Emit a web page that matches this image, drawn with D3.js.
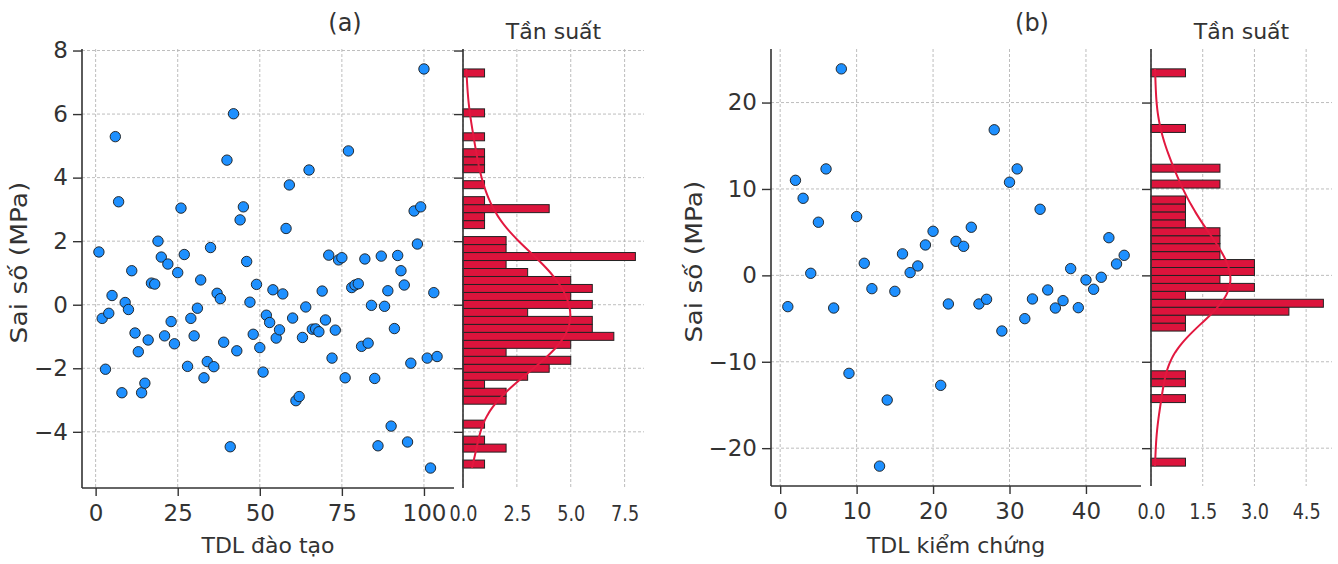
<!DOCTYPE html>
<html>
<head>
<meta charset="utf-8">
<script src="https://cdn.jsdelivr.net/npm/d3@7"></script>
<style>
  html, body { margin: 0; padding: 0; background: #fff; }
  svg text { font-family: "DejaVu Sans", sans-serif; fill: #333; }
</style>
</head>
<body>
<svg id="chart" width="1338" height="564"></svg>
<script>
// Residuals of the training set, one per sample (sample number 1..104)
const trainErrors = [
  1.66, -0.43, -2.03, -0.27, 0.29, 5.29, 3.24, -2.77, 0.07, -0.15,
  1.07, -0.89, -1.48, -2.77, -2.47, -1.11, 0.68, 0.65, 2.00, 1.50,
  -0.98, 1.28, -0.53, -1.23, 1.01, 3.04, 1.58, -1.94, -0.43, -0.98,
  -0.11, 0.78, -2.30, -1.79, 1.80, -1.95, 0.36, 0.19, -1.18, 4.55,
  -4.47, 6.01, -1.45, 2.67, 3.08, 1.36, 0.08, -0.93, 0.64, -1.35,
  -2.12, -0.33, -0.56, 0.47, -1.05, -0.79, 0.34, 2.40, 3.77, -0.42,
  -3.02, -2.89, -1.03, -0.07, 4.24, -0.77, -0.76, -0.85, 0.43, -0.48,
  1.56, -1.68, -0.80, 1.41, 1.48, -2.30, 4.84, 0.54, 0.62, 0.66,
  -1.31, 1.44, -1.21, -0.02, -2.32, -4.44, 1.53, -0.05, 0.44, -3.82,
  -0.75, 1.55, 1.07, 0.62, -4.32, -1.84, 2.95, 1.91, 3.08, 7.42,
  -1.68, -5.14, 0.38, -1.63
];

// Residuals of the validation set, one per sample (sample number 1..45)
const testErrors = [
  -3.62, 11.00, 8.92, 0.24, 6.15, 12.32, -3.78, 23.90, -11.34, 6.80,
  1.40, -1.54, -22.08, -14.43, -1.85, 2.49, 0.32, 1.09, 3.52, 5.10,
  -12.73, -3.31, 3.94, 3.36, 5.57, -3.31, -2.77, 16.85, -6.44, 10.78,
  12.32, -5.01, -2.73, 7.65, -1.69, -3.78, -2.93, 0.78, -3.74, -0.53,
  -1.61, -0.22, 4.36, 1.32, 2.32
];

// Histogram counts, 50 equal bins from the lowest to the highest residual
const trainHistCounts = [
  1, 0, 2, 1, 0, 1, 0, 0, 2, 2,
  1, 3, 4, 5, 2, 5, 7, 6, 6, 3,
  6, 5, 6, 5, 3, 2, 8, 2, 2, 0,
  1, 1, 4, 1, 0, 1, 0, 1, 1, 1,
  0, 1, 0, 0, 1, 0, 0, 0, 0, 1
];
const testHistCounts = [
  1, 0, 0, 0, 0, 0, 0, 0, 1, 0,
  1, 1, 0, 0, 0, 0, 0, 1, 1, 4,
  5, 1, 3, 2, 3, 3, 2, 2, 2, 2,
  1, 1, 1, 1, 0, 2, 0, 2, 0, 0,
  0, 0, 1, 0, 0, 0, 0, 0, 0, 1
];

// Tick values
const trainXTicks = [0, 25, 50, 75, 100];
const trainYTicks = [-4, -2, 0, 2, 4, 6, 8];
const trainHistTicks = [0, 2.5, 5.0, 7.5];
const testXTicks = [0, 10, 20, 30, 40];
const testYTicks = [-20, -10, 0, 10, 20];
const testHistTicks = [0, 1.5, 3.0, 4.5];

// Text
const panelTitles = ["(a)", "(b)"];
const histTitle = "Tần suất";
const yLabel = "Sai số (MPa)";
const xLabels = ["TDL đào tạo", "TDL kiểm chứng"];

const svg = d3.select("#chart");
const INK = "#333";
const POINT_FILL = "#1E90FF";
const BAR_FILL = "#DC143C";
const CURVE = "#E2183F";
const GRID = "#b5b5b5";

const fmtTick = d3.format("");
const fmtHist = d3.format(".1f");

function padded(lo, hi) {
  const m = (hi - lo) * 0.05;
  return [lo - m, hi + m];
}

// Gaussian kernel density (Scott bandwidth), evaluated on a grid
function kdeCurve(values, grid) {
  const n = values.length;
  const bw = d3.deviation(values) * Math.pow(n, -0.2);
  const norm = n * bw * Math.sqrt(2 * Math.PI);
  return grid.map(v => [v, d3.sum(values, d => Math.exp(-0.5 * ((v - d) / bw) ** 2)) / norm]);
}

function styleAxis(g, size, squeeze) {
  g.select(".domain").remove();
  g.selectAll(".tick line").attr("stroke", INK).attr("stroke-width", 1.4);
  const t = g.selectAll(".tick text").attr("font-size", size).attr("fill", INK);
  if (squeeze) t.attr("transform", `scale(${squeeze},1)`);
}

function drawPanel(cfg) {
  const errors = cfg.errors;
  const n = errors.length;
  const [lo, hi] = d3.extent(errors);

  const y = d3.scaleLinear().domain(padded(lo, hi)).range([cfg.bottom, cfg.top]);
  const x = d3.scaleLinear().domain(padded(1, n)).range([cfg.sx0, cfg.sx1]);
  const hx = d3.scaleLinear().domain([0, d3.max(cfg.counts) * 1.05]).range([cfg.hx0, cfg.hx1]);

  const g = svg.append("g");

  // ---- grid lines ----
  const grid = g.append("g").attr("stroke", GRID).attr("stroke-width", 0.9)
    .attr("stroke-dasharray", "3,2").attr("fill", "none");
  grid.selectAll(".vx").data(cfg.xTicks).join("line")
    .attr("x1", d => x(d)).attr("x2", d => x(d))
    .attr("y1", cfg.top).attr("y2", cfg.bottom);
  grid.selectAll(".hy").data(cfg.yTicks).join("line")
    .attr("x1", cfg.sx0).attr("x2", cfg.sx1)
    .attr("y1", d => y(d)).attr("y2", d => y(d));
  grid.selectAll(".hvx").data(cfg.histTicks).join("line")
    .attr("x1", d => hx(d)).attr("x2", d => hx(d))
    .attr("y1", cfg.top).attr("y2", cfg.bottom);
  grid.selectAll(".hhy").data(cfg.yTicks).join("line")
    .attr("x1", cfg.hx0).attr("x2", cfg.hx1)
    .attr("y1", d => y(d)).attr("y2", d => y(d));

  // ---- scatter of residuals ----
  g.append("g").selectAll("circle").data(errors).join("circle")
    .attr("cx", (d, i) => x(i + 1))
    .attr("cy", d => y(d))
    .attr("r", 5.2)
    .attr("fill", POINT_FILL)
    .attr("stroke", "#1a1a1a")
    .attr("stroke-width", 0.9);

  // ---- horizontal histogram ----
  const binW = (hi - lo) / cfg.counts.length;
  g.append("g").selectAll("rect")
    .data(cfg.counts.map((c, i) => ({ c, b0: lo + i * binW, b1: lo + (i + 1) * binW })).filter(d => d.c > 0))
    .join("rect")
    .attr("x", cfg.hx0)
    .attr("y", d => y(d.b1))
    .attr("width", d => hx(d.c) - hx(0))
    .attr("height", d => y(d.b0) - y(d.b1))
    .attr("fill", BAR_FILL)
    .attr("stroke", "#222")
    .attr("stroke-width", 1);

  // ---- density curve scaled to counts ----
  const gridVals = d3.range(200).map(i => lo + (hi - lo) * i / 199);
  const dens = kdeCurve(errors, gridVals);
  g.append("path")
    .datum(dens)
    .attr("fill", "none")
    .attr("stroke", CURVE)
    .attr("stroke-width", 2)
    .attr("d", d3.line().x(d => hx(d[1] * n * binW)).y(d => y(d[0])));

  // ---- axes ----
  const ax = g.append("g").attr("transform", `translate(0,${cfg.bottom})`)
    .call(d3.axisBottom(x).tickValues(cfg.xTicks).tickSize(8).tickPadding(9).tickFormat(fmtTick));
  styleAxis(ax, 23);
  const ay = g.append("g").attr("transform", `translate(${cfg.sx0},0)`)
    .call(d3.axisLeft(y).tickValues(cfg.yTicks).tickSize(9).tickPadding(5).tickFormat(fmtTick));
  styleAxis(ay, 23);
  const ahy = g.append("g").attr("transform", `translate(${cfg.hx0},0)`)
    .call(d3.axisLeft(y).tickValues(cfg.yTicks).tickSize(9).tickFormat(""));
  styleAxis(ahy, 23);
  const ahx = g.append("g").attr("transform", `translate(0,${cfg.bottom})`)
    .call(d3.axisBottom(hx).tickValues(cfg.histTicks).tickSize(0).tickPadding(17).tickFormat(fmtHist));
  styleAxis(ahx, 22, 0.8);

  // spines
  const sp = g.append("g").attr("stroke", INK).attr("stroke-width", 1.6);
  sp.append("line").attr("x1", cfg.sx0).attr("x2", cfg.sx0).attr("y1", cfg.top).attr("y2", cfg.bottom);
  sp.append("line").attr("x1", cfg.sx0).attr("x2", cfg.sx1).attr("y1", cfg.bottom).attr("y2", cfg.bottom);
  sp.append("line").attr("x1", cfg.hx0).attr("x2", cfg.hx0).attr("y1", cfg.top).attr("y2", cfg.bottom);

  // ---- titles and labels ----
  g.append("text").attr("x", cfg.titleX).attr("y", 31).attr("text-anchor", "middle")
    .attr("font-size", 24).text(cfg.title);
  g.append("text").attr("x", (cfg.hx0 + cfg.hx1) / 2).attr("y", 39).attr("text-anchor", "middle")
    .attr("font-size", 22).text(histTitle);
  g.append("text").attr("x", cfg.xLabelX).attr("y", 553).attr("text-anchor", "middle")
    .attr("font-size", 22).text(cfg.xLabel);
  g.append("text")
    .attr("transform", `translate(${cfg.yLabelX},${(cfg.top + cfg.bottom) / 2 - 6}) rotate(-90) scale(1,0.86)`)
    .attr("text-anchor", "middle").attr("font-size", 26.5).text(yLabel);
}

drawPanel({
  errors: trainErrors, counts: trainHistCounts,
  xTicks: trainXTicks, yTicks: trainYTicks, histTicks: trainHistTicks,
  sx0: 82, sx1: 454, hx0: 463, hx1: 644, top: 49, bottom: 488,
  title: panelTitles[0], titleX: 345, xLabel: xLabels[0], xLabelX: 268, yLabelX: 27
});

drawPanel({
  errors: testErrors, counts: testHistCounts,
  xTicks: testXTicks, yTicks: testYTicks, histTicks: testHistTicks,
  sx0: 771, sx1: 1141, hx0: 1151, hx1: 1332, top: 49, bottom: 486,
  title: panelTitles[1], titleX: 1032, xLabel: xLabels[1], xLabelX: 956, yLabelX: 702
});
</script>
</body>
</html>
